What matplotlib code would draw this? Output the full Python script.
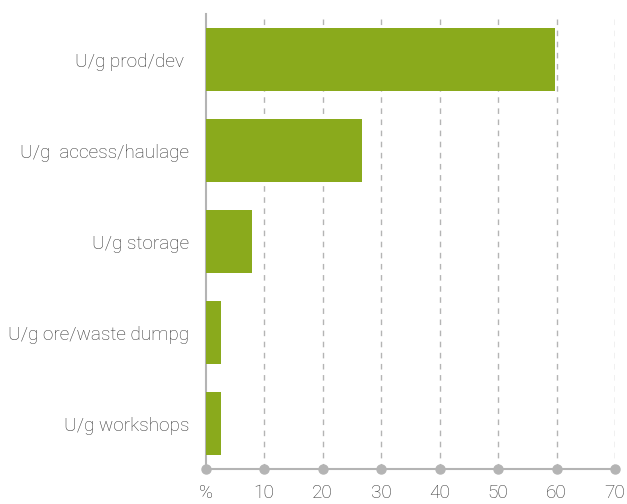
import matplotlib
matplotlib.use("Agg")
import matplotlib.pyplot as plt

plt.rcParams['font.family'] = ['Roboto', 'DejaVu Sans']

# data
categories = ['U/g prod/dev ', 'U/g  access/haulage', 'U/g storage',
              'U/g ore/waste dumpg', 'U/g workshops']
values = [59.8, 26.7, 7.9, 2.6, 2.6]
xticks = [0, 10, 20, 30, 40, 50, 60, 70]
xtick_labels = ['%', '10', '20', '30', '40', '50', '60', '70']

BAR = '#8aaa1c'
GREY = '#b4b4b4'
TEXT = '#333333'

fig = plt.figure(figsize=(6.27, 5.04), dpi=100)
ax = fig.add_axes([0.328, 0.0694, 0.653, 0.9028])

ypos = list(range(len(categories)))
ax.barh(ypos, values, height=0.70, color=BAR, zorder=3)
ax.set_ylim(len(categories) - 0.5, -0.5)
ax.set_xlim(0, 70)

ax.set_yticks(ypos)
ax.set_yticklabels(categories, fontsize=13.7, color=TEXT, fontweight='light')
ax.set_xticks(xticks)
ax.set_xticklabels(xtick_labels, fontsize=13.7, color=TEXT, fontweight='light')
ax.tick_params(axis='y', length=0, pad=12)
ax.tick_params(axis='x', length=0, pad=11)

# dashed vertical grid
for x in xticks[1:]:
    ax.axvline(x, color=GREY, lw=1, ls=(0, (4, 4)), zorder=1)

for s in ['top', 'right']:
    ax.spines[s].set_visible(False)
ax.spines['left'].set_color(GREY)
ax.spines['left'].set_linewidth(1.5)
ax.spines['bottom'].set_color(GREY)
ax.spines['bottom'].set_linewidth(1.5)

# round markers on the axis at each tick
ax.plot(xticks, [len(categories) - 0.5] * len(xticks), 'o', color=GREY,
        ms=6.5, clip_on=False, zorder=4)

fig.savefig('out.png', dpi=100)
